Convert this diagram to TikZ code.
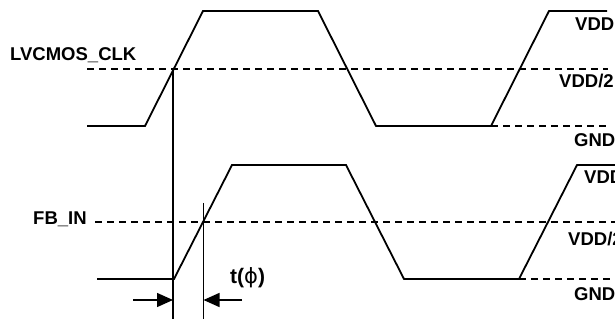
\documentclass[tikz,border=0pt]{standalone}
\usepackage{fontspec}
\setmainfont{Liberation Sans}
\newfontfamily\greekfont{DejaVu Sans}
\usetikzlibrary{positioning, arrows.meta, calc}

\begin{document}
\begin{tikzpicture}[x=1pt, y=-1pt, font=\fontsize{18.5}{22}\selectfont\bfseries,
  signal/.style={line width=1.8pt, line join=miter},
  level/.style={dash pattern=on 7pt off 5pt, line width=1.6pt},
  marker/.style={line width=1.4pt},
  lbl/.style={anchor=base west, inner sep=0pt}]
  \useasboundingbox (0,0) rectangle (615,320);

  % LVCMOS_CLK waveform
  \draw[level] (87,69) -- (608,69);
  \draw[level] (491,126) -- (608,126);
  \draw[signal] (87,126) -- (145,126) -- (203,11) -- (318,11) -- (376,126)
    -- (491,126) -- (549,11) -- (607,11);
  \node[lbl] (clk) at (10,61) {LVCMOS\_CLK};
  \node[lbl] (vddA) at (575,31) {VDD};
  \node[lbl] (halfA) at (559,87.5) {VDD/2};
  \node[lbl] (gndA) at (574,147) {GND};

  % FB_IN waveform
  \draw[level] (95,222) -- (615,222);
  \draw[level] (519,279) -- (615,279);
  \draw[signal] (97,279) -- (174,279) -- (232,165) -- (346,165) -- (404,279)
    -- (519,279) -- (577,165) -- (615,165);
  \node[lbl] (fb) at (33,225) {FB\_IN};
  \node[lbl] (vddB) at (584,184) {VDD};
  \node[lbl] (halfB) at (568,245) {VDD/2};
  \node[lbl] (gndB) at (574,300) {GND};

  % phase offset t(phi)
  \coordinate (edgeA) at (173,300);
  \coordinate (edgeB) at (203.5,300);
  \draw[marker] (173,69) -- (173,319);
  \draw[marker] (203.5,203) -- (203.5,319);
  \draw[marker, -{Triangle[length=16pt, width=14pt]}] (133,300) -- (edgeA);
  \draw[marker, -{Triangle[length=16pt, width=14pt]}] (242,300) -- (edgeB);
  \node[lbl, font=\fontsize{21}{24}\selectfont\bfseries] (tphi) at (230,283)
    {t({\greekfont\mdseries ϕ})};
\end{tikzpicture}
\end{document}
